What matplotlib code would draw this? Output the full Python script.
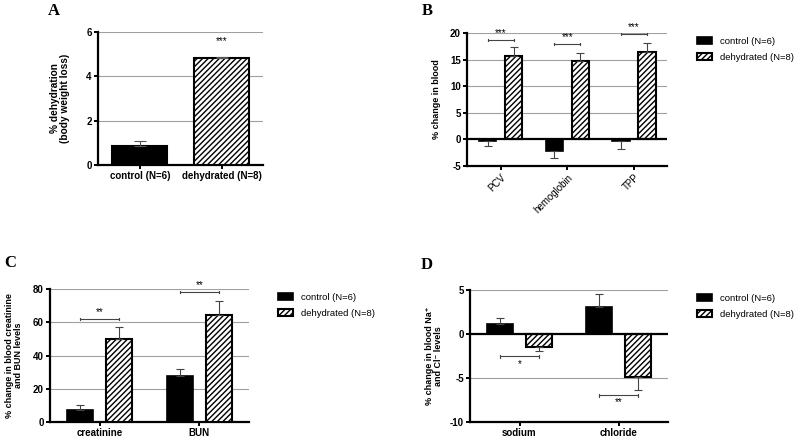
import numpy as np
import matplotlib.pyplot as plt

plt.rcParams['font.family'] = ['Liberation Sans', 'DejaVu Sans']
plt.rcParams['hatch.linewidth'] = 1.0
plt.rcParams['axes.unicode_minus'] = False

# Данные
a_groups = ['control (N=6)', 'dehydrated (N=8)']
a_vals = [0.88, 4.82]
a_err = [0.2, 0.05]

b_cats = ['PCV', 'hemoglobin', 'TPP']
b_ctrl = [-0.3, -2.2, -0.4]
b_ctrl_err = [1.0, 1.4, 1.5]
b_dehy = [15.75, 14.75, 16.4]
b_dehy_err = [1.6, 1.5, 1.7]
b_brackets = [18.75, 17.9, 19.8]
b_stars = ['***', '***', '***']

c_cats = ['creatinine', 'BUN']
c_ctrl = [7.4, 27.9]
c_ctrl_err = [2.8, 3.8]
c_dehy = [49.9, 64.5]
c_dehy_err = [7.2, 8.4]
c_brackets = [62.1, 78.2]
c_stars = ['**', '**']

d_cats = ['sodium', 'chloride']
d_ctrl = [1.13, 3.09]
d_ctrl_err = [0.7, 1.5]
d_dehy = [-1.43, -4.9]
d_dehy_err = [0.45, 1.5]
d_brackets = [-2.56, -6.97]
d_stars = ['*', '**']

fig = plt.figure(figsize=(8, 4.4), dpi=100)


def style_axes(ax, ylim, yticks, grid_ticks):
    ax.set_ylim(*ylim)
    ax.set_yticks(yticks)
    for g in grid_ticks:
        ax.axhline(g, color='#a0a0a0', lw=0.8, zorder=0)
    ax.spines['top'].set_visible(False)
    ax.spines['right'].set_visible(False)
    ax.spines['left'].set_linewidth(1.6)
    ax.spines['bottom'].set_linewidth(1.6)
    ax.tick_params(axis='both', width=1.4, length=3, labelsize=7, pad=1.5)
    for lab in ax.get_yticklabels() + ax.get_xticklabels():
        lab.set_fontweight('bold')


def one_sided(vals, errs):
    lo = [e if v < 0 else 0 for v, e in zip(vals, errs)]
    hi = [e if v >= 0 else 0 for v, e in zip(vals, errs)]
    return [lo, hi]


def grouped(ax, ctrl, ctrl_err, dehy, dehy_err, off=0.195, w=0.26):
    x = np.arange(len(ctrl))
    ax.bar(x - off, ctrl, w, color='black', edgecolor='black', lw=1.2,
           yerr=one_sided(ctrl, ctrl_err), capsize=3,
           error_kw=dict(ecolor='#444444', elinewidth=0.8, capthick=0.8),
           label='control (N=6)', zorder=3)
    ax.bar(x + off, dehy, w, color='white', edgecolor='black', lw=1.5,
           hatch='//////', yerr=one_sided(dehy, dehy_err), capsize=3,
           error_kw=dict(ecolor='#444444', elinewidth=0.8, capthick=0.8),
           label='dehydrated (N=8)', zorder=3)
    ax.set_xticks(x)
    ax.set_xlim(-0.5, len(ctrl) - 0.5)
    return x


def bracket(ax, x0, x1, y, star, above=True, dy=1.0):
    ax.plot([x0, x1], [y, y], color='#444444', lw=0.8, clip_on=False, zorder=4)
    ax.plot([x0, x0], [y - dy * 0.35, y + dy * 0.35], color='#444444', lw=0.8, clip_on=False)
    ax.plot([x1, x1], [y - dy * 0.35, y + dy * 0.35], color='#444444', lw=0.8, clip_on=False)
    ty = y + dy * 0.6 if above else y - dy * 0.6
    ax.text((x0 + x1) / 2, ty, star, ha='center', va='bottom' if above else 'top',
            fontsize=7, clip_on=False)


def legend(ax, x, y):
    ax.legend(loc='upper left', bbox_to_anchor=(x, y), frameon=False, fontsize=6.8,
              handlelength=1.6, handleheight=0.75, handletextpad=0.8, labelspacing=0.7,
              borderaxespad=0, borderpad=0)


# A
axA = fig.add_axes([0.1225, 0.625, 0.206, 0.302])
xa = np.arange(2)
axA.bar(xa, a_vals, 0.67, color=['black', 'white'], edgecolor='black', lw=1.5,
        hatch=['', '//////'], yerr=[[0, 0], a_err], capsize=4,
        error_kw=dict(ecolor='#555555', elinewidth=0.8, capthick=0.8), zorder=3)
axA.set_xlim(-0.51, 1.5)
axA.set_xticks(xa)
axA.set_xticklabels(a_groups)
style_axes(axA, (0, 6), [0, 2, 4, 6], [2, 4, 6])
axA.set_ylabel('% dehydration\n(body weight loss)', fontsize=7.3, fontweight='bold',
               linespacing=1.0)
axA.yaxis.set_label_coords(-0.17, 0.5)
axA.text(1, 5.35, '***', ha='center', va='bottom', fontsize=7)

# B
axB = fig.add_axes([0.584, 0.623, 0.25, 0.302])
xb = grouped(axB, b_ctrl, b_ctrl_err, b_dehy, b_dehy_err)
axB.set_xticklabels(b_cats)
style_axes(axB, (-5, 20), [-5, 0, 5, 10, 15, 20], [5, 10, 15, 20])
axB.axhline(0, color='black', lw=1.6, zorder=5)
for lab in axB.get_xticklabels():
    lab.set_rotation(45)
    lab.set_ha('right')
    lab.set_rotation_mode('anchor')
    lab.set_fontweight('normal')
axB.set_ylabel('% change in blood', fontsize=6.5, fontweight='bold')
axB.yaxis.set_label_coords(-0.13, 0.5)
for i in range(3):
    bracket(axB, xb[i] - 0.195, xb[i] + 0.195, b_brackets[i], b_stars[i], dy=0.6)
legend(axB, 1.15, 0.97)

# C
axC = fig.add_axes([0.0625, 0.041, 0.249, 0.302])
xc = grouped(axC, c_ctrl, c_ctrl_err, c_dehy, c_dehy_err)
axC.set_xticklabels(c_cats)
style_axes(axC, (0, 80), [0, 20, 40, 60, 80], [20, 40, 60, 80])
axC.set_ylabel('% change in blood creatinine\nand BUN levels', fontsize=6.5,
               fontweight='bold', linespacing=1.0)
axC.yaxis.set_label_coords(-0.136, 0.5)
for i in range(2):
    bracket(axC, xc[i] - 0.195, xc[i] + 0.195, c_brackets[i], c_stars[i], dy=2.0)
legend(axC, 1.146, 0.97)

# D
axD = fig.add_axes([0.5875, 0.041, 0.2475, 0.3])
xd = grouped(axD, d_ctrl, d_ctrl_err, d_dehy, d_dehy_err)
axD.set_xticklabels(d_cats)
style_axes(axD, (-10, 5), [-10, -5, 0, 5], [-5, 5])
axD.axhline(0, color='black', lw=1.6, zorder=5)
axD.set_ylabel('% change in blood Na⁺\nand Cl⁻ levels', fontsize=6.5,
               fontweight='bold', linespacing=1.0)
axD.yaxis.set_label_coords(-0.136, 0.5)
for i in range(2):
    bracket(axD, xd[i] - 0.195, xd[i] + 0.195, d_brackets[i], d_stars[i],
            above=False, dy=0.4)
legend(axD, 1.146, 0.97)

# Подписи панелей
for lbl, (px, py) in zip('ABCD', [(48, 3), (422, 3), (4, 255), (421, 257)]):
    fig.text(px / 800, 1 - py / 440, lbl, ha='left', va='top', fontsize=12,
             fontweight='bold', family='Liberation Serif')

fig.savefig('out.png', dpi=100)
